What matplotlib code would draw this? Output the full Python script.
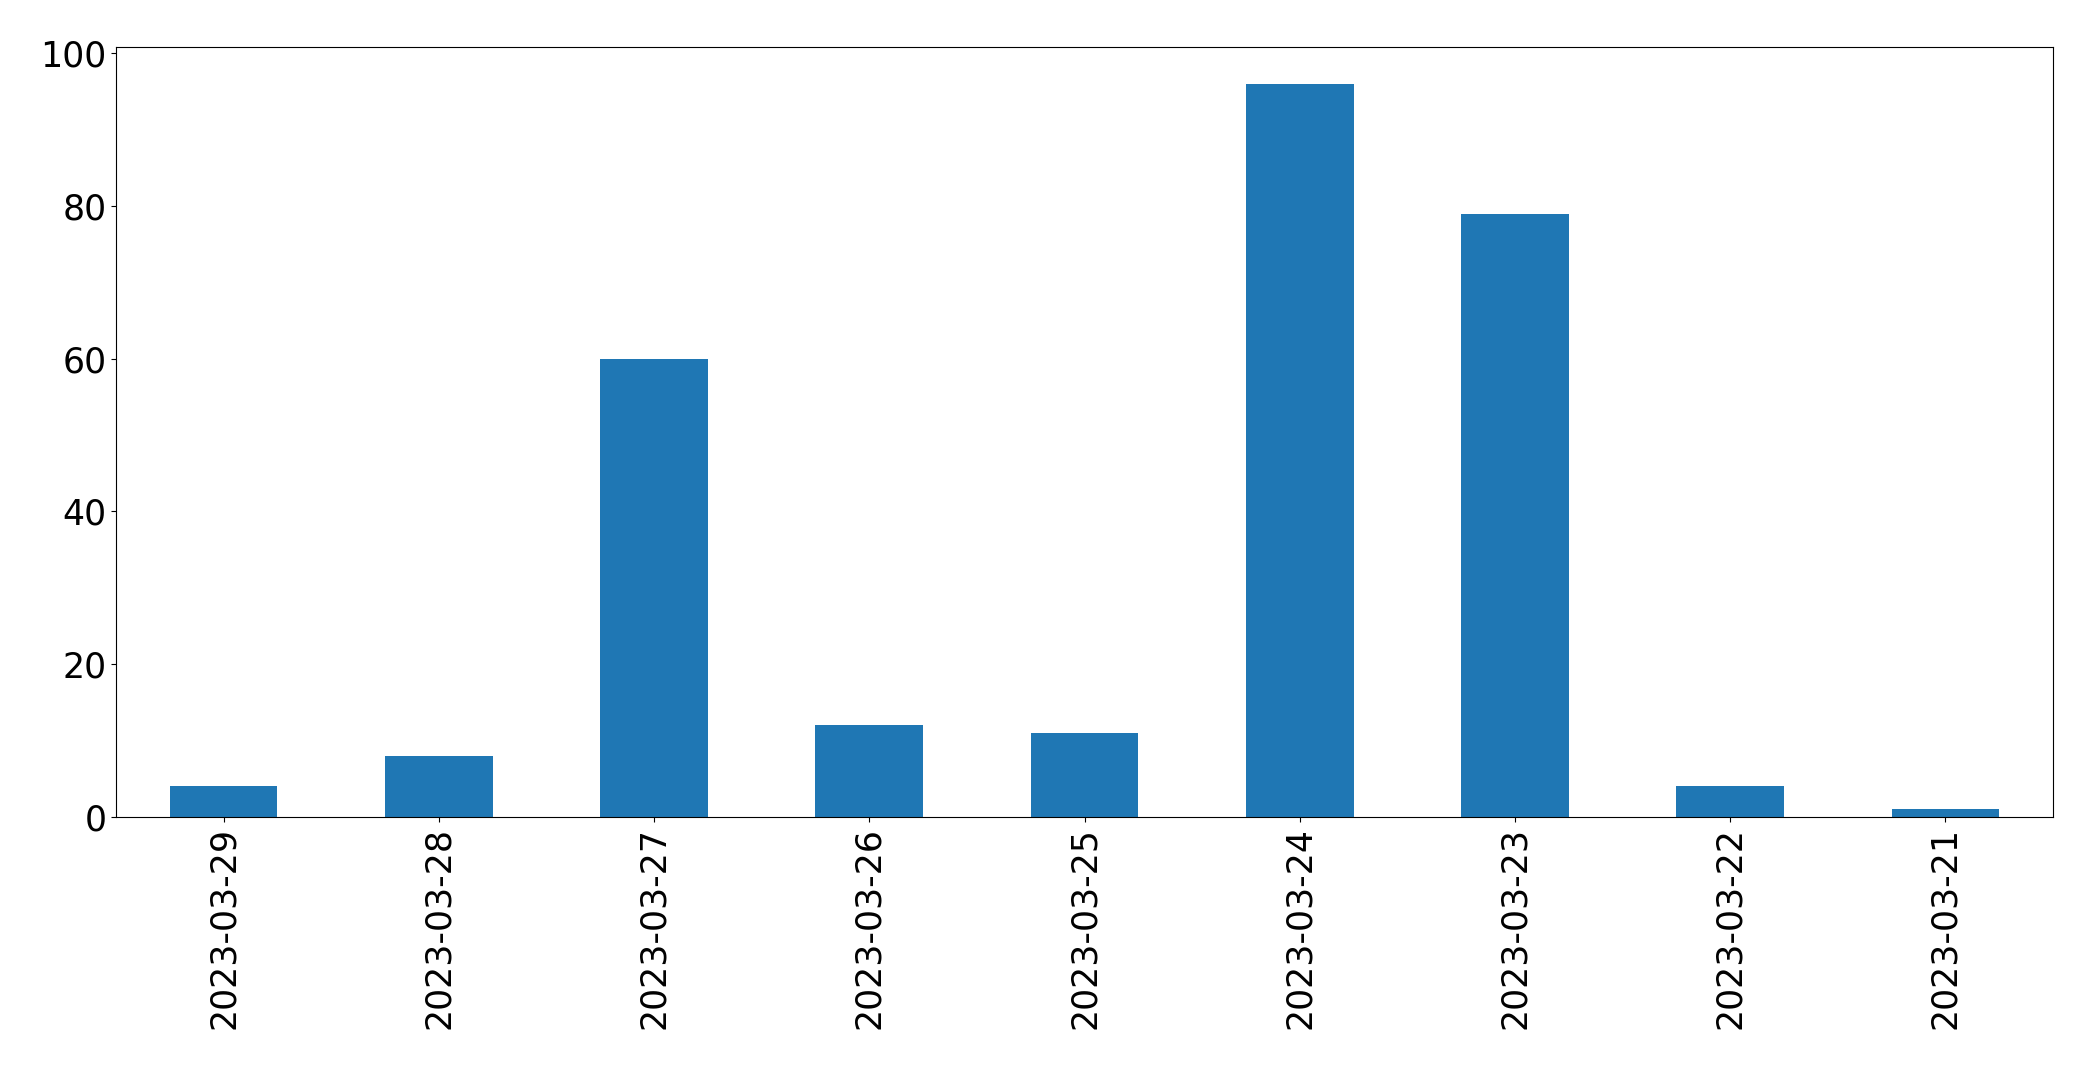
import matplotlib
matplotlib.use("Agg")
import matplotlib.pyplot as plt
import pandas as pd

dates = ["2023-03-29", "2023-03-28", "2023-03-27", "2023-03-26", "2023-03-25",
         "2023-03-24", "2023-03-23", "2023-03-22", "2023-03-21"]
counts = [4, 8, 60, 12, 11, 96, 79, 4, 1]

plt.rcParams['font.size'] = 25
fig = plt.figure(figsize=(20.93, 10.69), dpi=100)
ax = fig.add_axes([116/2093, 1 - 817/1069, (2053 - 116)/2093, (817 - 47)/1069])
s = pd.Series(counts, index=dates)
s.plot(kind="bar", ax=ax, color="#1f77b4")
ax.tick_params(axis='both', labelsize=25)
fig.savefig("out.png", dpi=100)
